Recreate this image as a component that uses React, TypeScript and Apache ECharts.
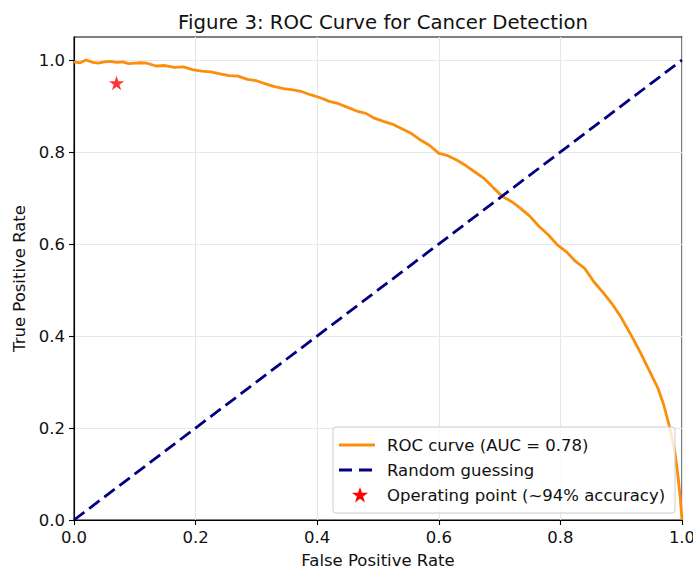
import React, { useEffect, useRef } from "react";
import * as echarts from "echarts";

const TITLE = "Figure 3: ROC Curve for Cancer Detection";
const X_LABEL = "False Positive Rate";
const Y_LABEL = "True Positive Rate";
const TICKS = [0, 0.2, 0.4, 0.6, 0.8, 1.0];

const ROC_NAME = "ROC curve (AUC = 0.78)";
const RANDOM_NAME = "Random guessing";
const OP_NAME = "Operating point (~94% accuracy)";

const rocFpr = [
  0.0, 0.01, 0.02, 0.03, 0.04, 0.05, 0.06, 0.07, 0.08, 0.09, 0.1, 0.11, 0.12,
  0.135, 0.15, 0.165, 0.18, 0.195, 0.21, 0.225, 0.24, 0.255, 0.27, 0.285, 0.3,
  0.315, 0.33, 0.345, 0.36, 0.375, 0.39, 0.405, 0.42, 0.435, 0.45, 0.465, 0.48,
  0.495, 0.51, 0.525, 0.54, 0.555, 0.57, 0.585, 0.6, 0.615, 0.63, 0.645, 0.66,
  0.675, 0.69, 0.705, 0.72, 0.735, 0.75, 0.765, 0.78, 0.795, 0.81, 0.825, 0.84,
  0.855, 0.87, 0.885, 0.9, 0.915, 0.93, 0.945, 0.96, 0.97, 0.98, 0.988, 0.993,
  0.997, 1.0,
];
const rocTpr = [
  0.996, 0.994, 1.0, 0.995, 0.993, 0.996, 0.997, 0.995, 0.996, 0.992, 0.993,
  0.994, 0.993, 0.987, 0.988, 0.984, 0.985, 0.979, 0.976, 0.974, 0.97, 0.966,
  0.965, 0.958, 0.955, 0.948, 0.942, 0.938, 0.935, 0.931, 0.924, 0.918, 0.91,
  0.905, 0.897, 0.889, 0.884, 0.873, 0.866, 0.86, 0.85, 0.84, 0.826, 0.814,
  0.797, 0.792, 0.782, 0.77, 0.756, 0.742, 0.722, 0.703, 0.692, 0.677, 0.66,
  0.638, 0.62, 0.598, 0.583, 0.562, 0.547, 0.518, 0.495, 0.47, 0.44, 0.405,
  0.368, 0.328, 0.288, 0.25, 0.2, 0.15, 0.1, 0.05, 0.0,
];

const randomFpr = [0, 1];
const randomTpr = [0, 1];

const opFpr = [0.07];
const opTpr = [0.95];

const STAR =
  "M0,-10 L2.245,-3.09 L9.511,-3.09 L3.633,1.18 L5.878,8.09 L0,3.82 L-5.878,8.09 L-3.633,1.18 L-9.511,-3.09 L-2.245,-3.09 Z";

const FONT = "DejaVu Sans";
const ORANGE = "#fb8e0c";
const NAVY = "#000080";
const FS = 16.5;

echarts.graphic.registerShape(
  "legendStar",
  echarts.graphic.extendPath(STAR, {}) as any
);

export default function App() {
  const ref = useRef<HTMLDivElement>(null);

  useEffect(() => {
    if (!ref.current) return;
    const chart = echarts.init(ref.current, undefined, { renderer: "svg" });

    const rocData = rocFpr.map((x, i) => [x, rocTpr[i]]);
    const randomData = randomFpr.map((x, i) => [x, randomTpr[i]]);
    const opData = opFpr.map((x, i) => [x, opTpr[i]]);

    const axisCommon = {
      type: "value" as const,
      min: 0,
      interval: 0.2,
      nameLocation: "middle" as const,
      nameTextStyle: { fontFamily: FONT, fontSize: FS, color: "#111" },
      axisLine: { show: true, lineStyle: { color: "#000", width: 1.1 } },
      axisTick: {
        show: true,
        inside: false,
        length: 5,
        lineStyle: { color: "#000", width: 1.1 },
        customValues: TICKS,
      },
      axisLabel: {
        fontFamily: FONT,
        fontSize: FS,
        color: "#111",
        margin: 9,
        customValues: TICKS,
        formatter: (v: number) => (v > 1.01 ? "" : v.toFixed(1)),
      },
      splitLine: {
        show: true,
        lineStyle: { color: "#e7e7e7", width: 1.1 },
      },
    };

    const legendTop = 427;
    const rows = [445, 470, 495];

    chart.setOption({
      animation: false,
      backgroundColor: "#fff",
      title: {
        text: TITLE,
        left: 378,
        top: 7,
        textAlign: "center",
        textStyle: {
          fontFamily: FONT,
          fontSize: 19.7,
          fontWeight: "normal",
          color: "#111",
        },
      },
      grid: {
        left: 74,
        top: 37,
        width: 608,
        height: 483,
        show: true,
        borderColor: "#000",
        borderWidth: 1.1,
        containLabel: false,
        outerBoundsMode: "none",
      },
      xAxis: {
        ...axisCommon,
        max: 1,
        name: X_LABEL,
        nameGap: 32,
      },
      yAxis: {
        ...axisCommon,
        max: 1.05,
        name: Y_LABEL,
        nameGap: 41,
      },
      series: [
        {
          name: ROC_NAME,
          type: "line",
          data: rocData,
          symbol: "none",
          lineStyle: { color: ORANGE, width: 2.8 },
          z: 2,
        },
        {
          name: RANDOM_NAME,
          type: "line",
          data: randomData,
          symbol: "none",
          lineStyle: { color: NAVY, width: 2.8, type: [13, 6] },
          z: 3,
        },
        {
          name: OP_NAME,
          type: "scatter",
          data: opData,
          symbol: "path://" + STAR,
          symbolSize: 15,
          symbolKeepAspect: true,
          itemStyle: { color: "#ff0000" },
          z: 4,
        },
      ],
      graphic: [
        {
          type: "rect",
          z: 100,
          shape: { x: 333, y: legendTop, width: 342, height: 86, r: 3 },
          style: {
            fill: "rgba(255,255,255,0.8)",
            stroke: "#cccccc",
            lineWidth: 1,
          },
        },
        {
          type: "line",
          z: 101,
          shape: { x1: 339, y1: rows[0], x2: 375, y2: rows[0] },
          style: { stroke: ORANGE, lineWidth: 2.8 },
        },
        {
          type: "line",
          z: 101,
          shape: { x1: 339, y1: rows[1], x2: 375, y2: rows[1] },
          style: { stroke: NAVY, lineWidth: 2.8, lineDash: [13, 7] },
        },
        {
          type: "legendStar",
          z: 101,
          x: 360,
          y: rows[2] + 0.5,
          scaleX: 0.85,
          scaleY: 0.85,
          style: { fill: "#ff0000" },
        },
        ...[ROC_NAME, RANDOM_NAME, OP_NAME].map((t, i) => ({
          type: "text",
          z: 101,
          x: 387,
          y: rows[i],
          style: {
            text: t,
            fontFamily: FONT,
            fontSize: FS,
            fill: "#111",
            verticalAlign: "middle",
            align: "left",
          },
        })),
      ],
    });

    return () => chart.dispose();
  }, []);

  return (
    <div
      ref={ref}
      style={{ position: "fixed", left: 0, top: 0, width: 693, height: 569 }}
    />
  );
}
